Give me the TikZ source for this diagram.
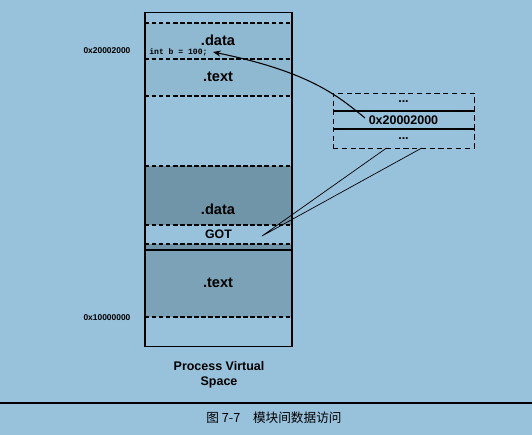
\documentclass[tikz,border=0pt]{standalone}
\usepackage{fontspec}
\setmainfont{Liberation Sans}
\setmonofont{Liberation Mono}
\newfontfamily\cjk{Noto Sans CJK SC}
\usetikzlibrary{positioning, arrows.meta, calc}
\definecolor{bg_blue}{RGB}{152,193,219}
\definecolor{light_dots}{RGB}{143,184,209}
\definecolor{data_dots}{RGB}{112,148,168}
\definecolor{text_dots}{RGB}{124,162,183}

\begin{document}
\begin{tikzpicture}[x=0.02cm, y=-0.02cm,
                    segment/.style={minimum width=2.94cm, inner sep=0pt, outer sep=0pt},
                    segtext/.style={inner sep=0pt, font=\fontsize{8.3}{9}\selectfont\bfseries},
                    divider/.style={semithick, dash pattern=on 2.5pt off 1.5pt},
                    slot/.style={draw, densely dashed, minimum width=2.82cm, minimum height=0.36cm, inner sep=0pt, outer sep=0pt, font=\fontsize{7.1}{8}\selectfont\bfseries},
                    addr/.style={inner sep=0pt, font=\fontsize{4.8}{5}\selectfont\bfseries},
                    pointer/.style={-{Stealth[length=4.5pt, width=3.5pt]}, semithick}]

  \fill[bg_blue] (0,0) rectangle (532,435);
  \useasboundingbox (0,0) rectangle (532,435);

  % Define segments of the process space
  \node[segment, fill=light_dots, minimum height=0.72cm] (data1) at (218.5,41) {};
  \node[segment, fill=light_dots, minimum height=0.74cm] (text1) at (218.5,77.5) {};
  \node[segment, fill=data_dots, minimum height=1.18cm] (data2) at (218.5,195.5) {};
  \node[segment, minimum height=0.38cm, segtext, font=\fontsize{7}{8}\selectfont\bfseries] (got) at (218.5,234.5) {GOT};
  \node[segment, fill=data_dots, minimum height=0.12cm] (band) at (218.5,247) {};
  \node[segment, fill=text_dots, minimum height=1.34cm] (text2) at (218.5,283.5) {};

  \foreach \seg in {data1, text1, data2, got, text2}
    \draw[divider] (\seg.north west) -- (\seg.north east) (\seg.south west) -- (\seg.south east);
  \draw[semithick] (band.south west) -- (band.south east);

  \node[draw, semithick, minimum width=2.94cm, minimum height=6.7cm, inner sep=0pt] (space) at (218.5,179.5) {};

  \node[segtext] at (218,40) {.data};
  \node[segtext] at (218,77) {.text};
  \node[segtext] at (218,209) {.data};
  \node[segtext] at (218,283) {.text};
  \node[inner sep=0pt, anchor=west, font=\fontsize{4.6}{5}\selectfont\ttfamily\bfseries] (intb) at (149,52) {int b = 100;};

  \node[addr] (addr_hi) at (107,51) {0x20002000};
  \node[addr] (addr_lo) at (107,318) {0x10000000};

  % GOT entries
  \node[slot] (s1) at (403.5,102) {...};
  \node[slot, below=0pt of s1] (s2) {0x20002000};
  \node[slot, below=0pt of s2, minimum height=0.38cm] (s3) {...};
  \draw[semithick] (s2.north west) -- (s2.north east) (s2.south west) -- (s2.south east);

  % Connections
  \coordinate (ptr_start) at ($(s2.west)+(32,-2)$);
  \coordinate (ptr_end) at ($(intb.east)+(5,0)$);
  \draw[pointer] (ptr_start) .. controls (338,96) and (310,72) .. (ptr_end);

  \coordinate (got_ptr) at (262,236);
  \draw ($(s3.south west)!0.38!(s3.south east)$) -- (got_ptr) -- ($(s3.south west)!0.63!(s3.south east)$);

  \node[align=center, font=\fontsize{7.1}{8.5}\selectfont\bfseries] (space_name) at (219,374.5) {Process Virtual\\Space};

  \draw[thick] (0,403) -- (532,403);
  \node[font=\cjk\fontsize{7.2}{8}\selectfont] (fig_caption) at (274,418) {图 7-7\quad 模块间数据访问};

\end{tikzpicture}
\end{document}
